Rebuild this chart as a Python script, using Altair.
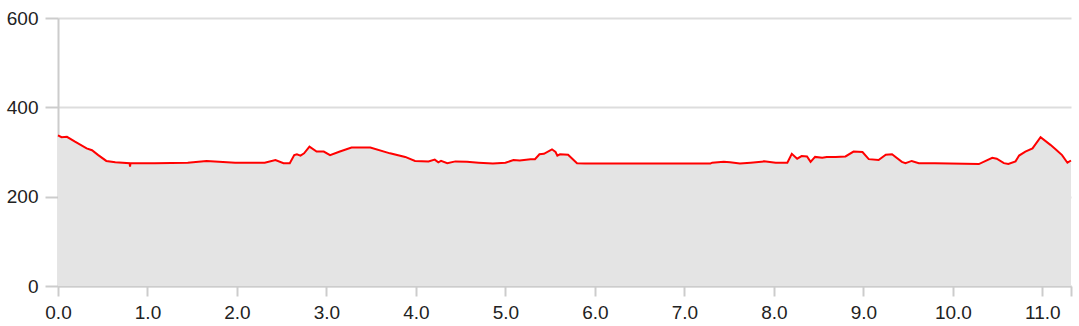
import altair as alt
import pandas as pd

km = [0.0, 0.04, 0.10, 0.19, 0.32, 0.38, 0.45, 0.54, 0.64, 0.80, 0.805, 0.81, 1.08, 1.45, 1.66, 1.98,
      2.31, 2.43, 2.52, 2.59, 2.64, 2.67, 2.71, 2.75, 2.81, 2.89, 2.97, 3.04, 3.15, 3.28, 3.49, 3.71, 3.88,
      3.99, 4.14, 4.21, 4.25, 4.28, 4.35, 4.44, 4.57, 4.70, 4.86, 5.00, 5.09, 5.16, 5.28, 5.33, 5.38, 5.43,
      5.52, 5.56, 5.58, 5.61, 5.70, 5.80, 5.89, 7.29, 7.31, 7.44, 7.51, 7.62, 7.74, 7.89, 8.02, 8.15,
      8.20, 8.26, 8.31, 8.37, 8.41, 8.46, 8.54, 8.59, 8.69, 8.80, 8.89, 8.99, 9.06, 9.17, 9.25, 9.32,
      9.43, 9.47, 9.54, 9.62, 9.80, 10.29, 10.44, 10.49, 10.57, 10.62, 10.70, 10.74, 10.81, 10.89,
      10.98, 11.09, 11.16, 11.22, 11.28, 11.32]
elev = [337, 333, 334, 323, 308, 304, 293, 280, 277, 275, 267, 275, 275, 276, 280, 276,
        276, 282, 275, 275, 293, 295, 292, 297, 312, 301, 301, 293, 301, 310, 310, 297, 289,
        280, 279, 283, 277, 280, 275, 279, 278, 276, 274, 276, 282, 281, 284, 284, 295, 296,
        306, 300, 292, 295, 294, 275, 274, 274, 276, 278, 277, 274, 276, 279, 276, 276,
        296, 285, 291, 290, 278, 289, 287, 289, 289, 290, 301, 300, 284, 282, 294, 295,
        278, 275, 280, 275, 275, 273, 287, 285, 275, 273, 279, 292, 301, 308,
        333, 316, 304, 293, 276, 281]

x_ticks = [0, 1, 2, 3, 4, 5, 6, 7, 8, 9, 10, 11, 11.32]
y_ticks = [0, 200, 400, 600]

df = pd.DataFrame({"km": km, "elev": elev})

font = "Liberation Sans"
x_enc = alt.X("km:Q", scale=alt.Scale(domain=[0, 11.32], nice=False, zero=False),
              axis=alt.Axis(values=x_ticks, format=".1f", grid=False, title=None,
                            labelExpr="datum.value > 11.2 ? '' : format(datum.value, '.1f')",
                            labelFontSize=19, labelFont=font, labelColor="#222",
                            tickSize=10, tickColor="#ccc", domainColor="#ccc", labelPadding=7,
                            tickWidth=2, domainWidth=2, labelFlush=False))
y_enc = alt.Y("elev:Q", scale=alt.Scale(domain=[0, 600], nice=False),
              axis=alt.Axis(values=y_ticks, grid=True, gridColor="#ddd", gridWidth=2, title=None,
                            labelFontSize=19, labelFont=font, labelColor="#222",
                            tickSize=13, tickColor="#ccc", domainColor="#ccc", labelPadding=7,
                            tickWidth=2, domainWidth=2))

area = alt.Chart(df).mark_area(color="#e4e4e4", opacity=1).encode(x=x_enc, y=y_enc)
line = alt.Chart(df).mark_line(color="#ff0000", strokeWidth=2).encode(x="km:Q", y="elev:Q")

chart = (area + line).properties(
    width=1013, height=268,
    padding={"left": 58, "top": 18, "right": 8, "bottom": 40},
    autosize=alt.AutoSizeParams(type="none"),
).configure_view(stroke=None)

chart.save("out.html", embed_options={"renderer": "svg", "actions": False})
